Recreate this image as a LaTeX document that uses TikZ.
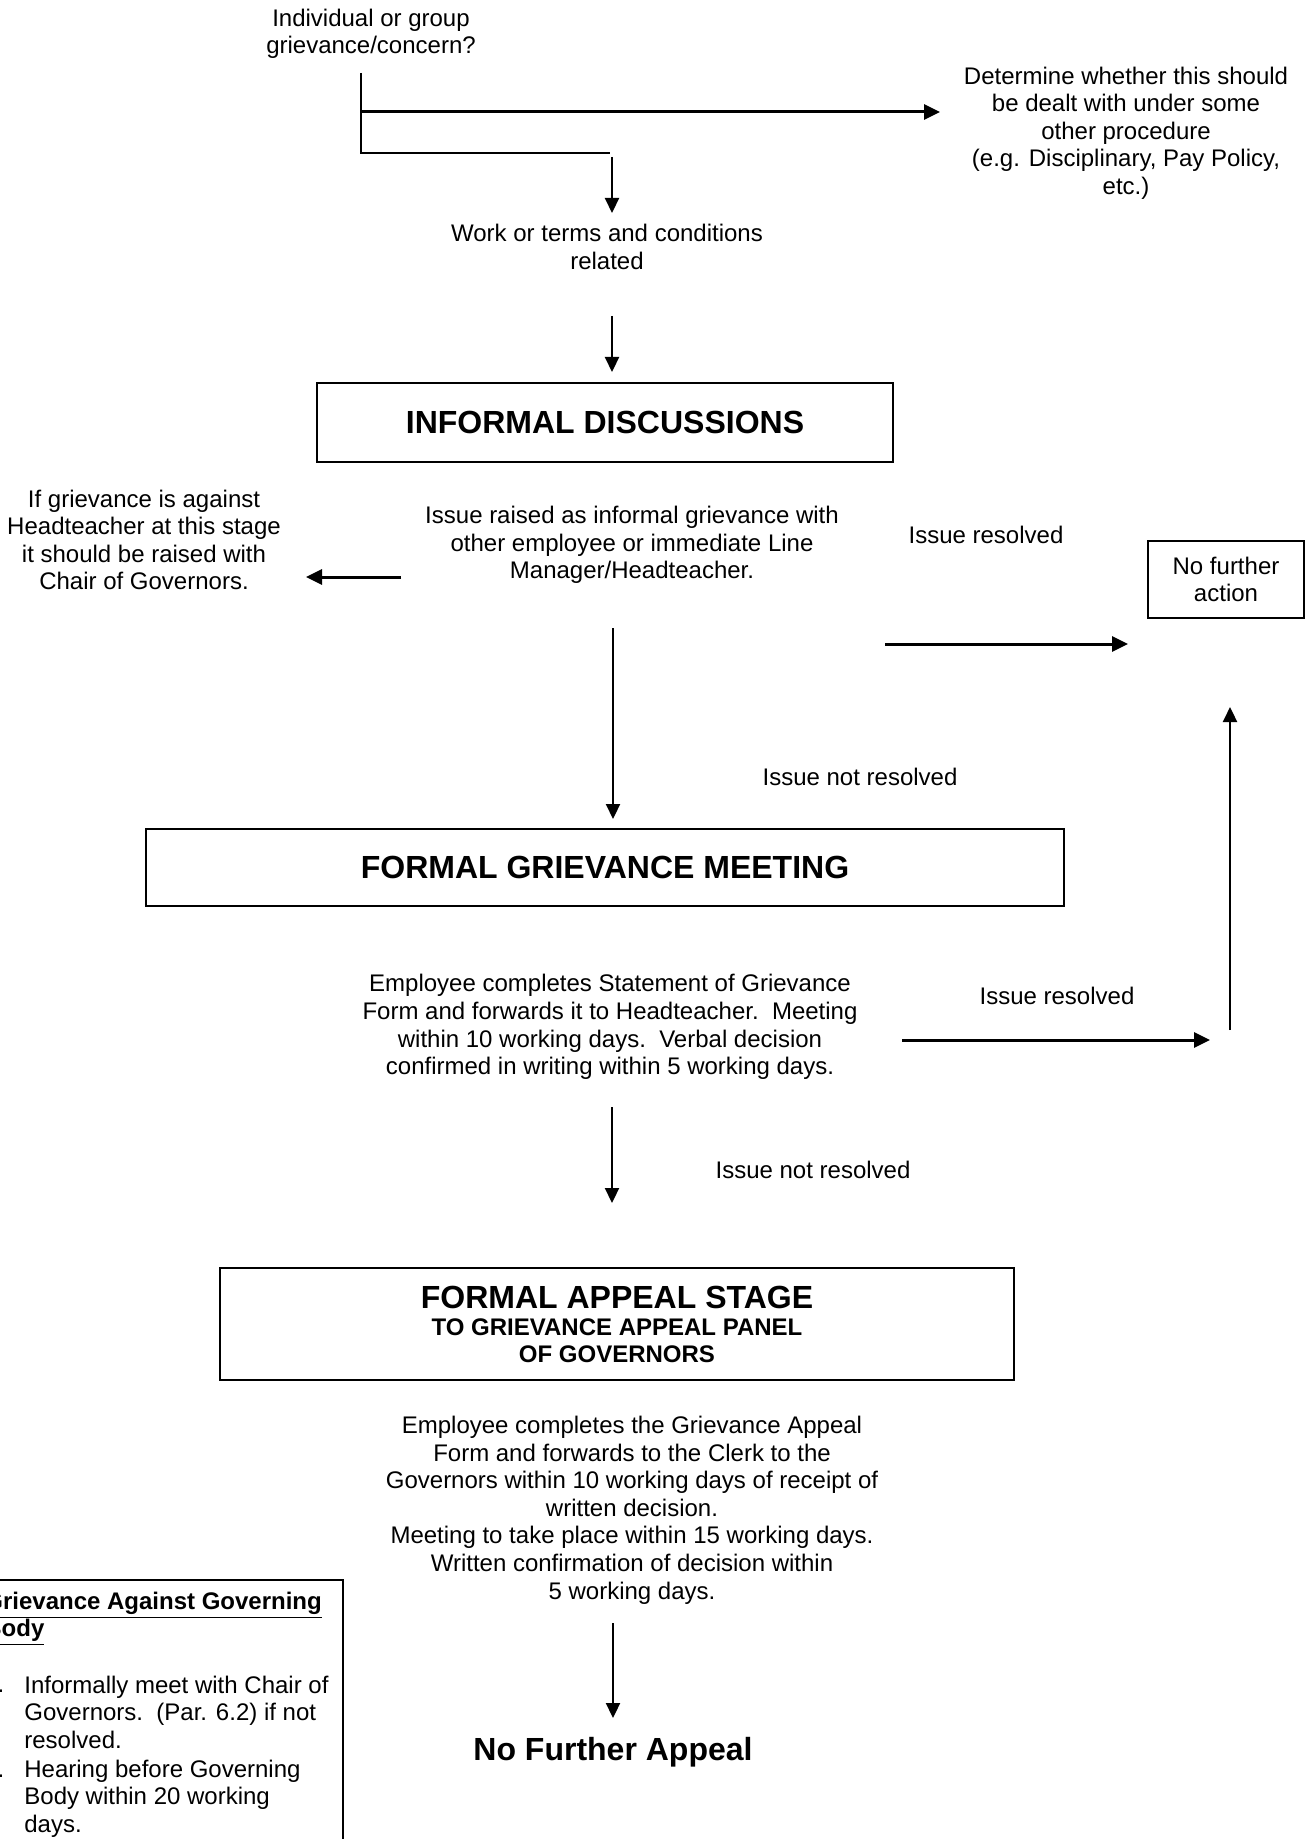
\documentclass[tikz,border=0pt]{standalone}
\usepackage{fontspec}
\setmainfont{Liberation Sans}
\usetikzlibrary{arrows.meta}
\tikzset{
    mytext/.style = {align=center, inner sep=0pt, font=\fontsize{12}{13.8}\selectfont},
    mytextl/.style = {align=left, inner sep=0pt, font=\fontsize{12}{13.8}\selectfont},
    mybox/.style = {rectangle, draw=black, line width=1pt, inner sep=0pt, align=center, font=\fontsize{16}{18.4}\selectfont\bfseries},
    myboxs/.style = {rectangle, draw=black, line width=1pt, inner sep=0pt, align=center, font=\fontsize{12}{13.8}\selectfont},
    linen/.style = {line width=1.1pt},
    edgen/.style = {-{Triangle[length=7.5pt,width=7pt]},line width=1.1pt},
    edgek/.style = {-{Triangle[length=8pt,width=7.5pt]},line width=1.5pt}
}

\begin{document}
\begin{tikzpicture}[x=0.5pt,y=-0.5pt]
\path[use as bounding box, clip] (0,0) rectangle (1312,1839);
\node[mytext] at (371,34) (start) {Individual or group\\grievance/concern?};
\node[mytext] at (1126,133) (other) {Determine whether this should\\be dealt with under some\\other procedure\\(e.g. Disciplinary, Pay Policy,\\etc.)};
\node[mytext] at (607,247) (work) {Work or terms and conditions\\related};
\node[mybox, minimum width=288pt, minimum height=39.5pt] at (605,422.5) (informal) {INFORMAL DISCUSSIONS};
\node[mytext] at (144,540) (chair) {If grievance is against\\Headteacher at this stage\\it should be raised with\\Chair of Governors.};
\node[mytext] at (632,545) (raised) {Issue raised as informal grievance with\\other employee or immediate Line\\Manager/Headteacher.};
\node[mytext, anchor=base] at (986,544) (res1) {Issue resolved};
\node[myboxs, minimum width=78pt, minimum height=38.5pt] at (1226,579.5) (nfa) {No further\\action};
\node[mytext, anchor=base] at (860,785) (notres1) {Issue not resolved};
\node[mybox, minimum width=459pt, minimum height=38.5pt] at (605,867.5) (formal) {FORMAL GRIEVANCE MEETING};
\node[mytext] at (610,1027) (statement) {Employee completes Statement of Grievance\\Form and forwards it to Headteacher.\ \ Meeting\\within 10 working days.\ \ Verbal decision\\confirmed in writing within 5 working days.};
\node[mytext, anchor=base] at (1057,1004) (res2) {Issue resolved};
\node[mytext, anchor=base] at (813,1178) (notres2) {Issue not resolved};
\node[mybox, minimum width=397pt, minimum height=56pt, font=\fontsize{12}{13.5}\selectfont\bfseries] at (617,1324) (appeal) {{\fontsize{16}{18.4}\selectfont FORMAL APPEAL STAGE}\\TO GRIEVANCE APPEAL PANEL\\OF GOVERNORS};
\node[mytext] at (632,1510) (appealform) {Employee completes the Grievance Appeal\\Form and forwards to the Clerk to the\\Governors within 10 working days of receipt of\\written decision.\\Meeting to take place within 15 working days.\\Written confirmation of decision within\\5 working days.};
\node[mytext, anchor=base, font=\fontsize{16}{18.4}\selectfont\bfseries] at (613,1760) (final) {No Further Appeal};
% governing body
\node[draw, line width=1pt, minimum width=181pt, minimum height=141pt, anchor=north west] at (-20,1579) (gbody) {};
\node[mytextl, anchor=north west, font=\fontsize{12}{13.5}\selectfont\bfseries] at (-16,1592) (gbhead) {\underline{Grievance Against Governing}\\\underline{Body}};
\node[mytextl, anchor=north west] at (-16,1676) (gbnum1) {1.};
\node[mytextl, anchor=north west] at (24,1675.5) (gbitem1) {Informally meet with Chair of\\Governors.\ \ (Par. 6.2) if not\\resolved.};
\node[mytextl, anchor=north west] at (-16,1760) (gbnum2) {2.};
\node[mytextl, anchor=north west] at (24,1759.5) (gbitem2) {Hearing before Governing\\Body within 20 working\\days.};
%
\coordinate (split) at (361,73);
\coordinate (elbow) at (610,153);
\coordinate (branch) at (361,112);
\coordinate (otherin) at (940,112);
\coordinate (workout) at (612,157);
\coordinate (workin) at (612,213);
\coordinate (infout) at (612,316);
\coordinate (infin) at (612,372);
\coordinate (chairout) at (401,577);
\coordinate (chairin) at (306,577);
\coordinate (raisedout) at (613,628);
\coordinate (formalin) at (613,819);
\coordinate (res1out) at (885,644);
\coordinate (res1in) at (1128,644);
\coordinate (res2out) at (902,1040);
\coordinate (res2in) at (1210,1040);
\coordinate (upout) at (1230,1030);
\coordinate (upin) at (1230,707);
\coordinate (stateout) at (612,1107);
\coordinate (appealin) at (612,1203);
\coordinate (finalout) at (613,1623);
\coordinate (finalin) at (613,1718);
%
\draw[linen] (split) |- (elbow);
\draw[edgek] (branch) -- (otherin);
\draw[edgen] (workout) -- (workin);
\draw[edgen] (infout) -- (infin);
\draw[edgek] (chairout) -- (chairin);
\draw[edgen] (raisedout) -- (formalin);
\draw[edgek] (res1out) -- (res1in);
\draw[edgek] (res2out) -- (res2in);
\draw[edgen] (upout) -- (upin);
\draw[edgen] (stateout) -- (appealin);
\draw[edgen] (finalout) -- (finalin);
\end{tikzpicture}
\end{document}
